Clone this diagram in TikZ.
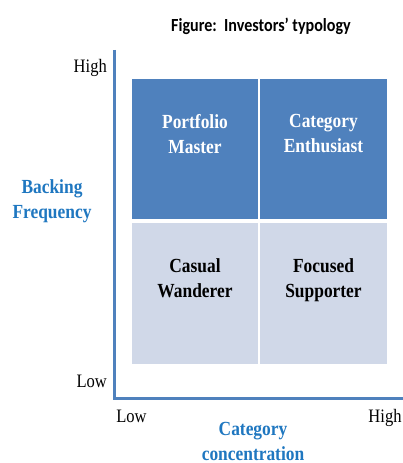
\documentclass[tikz,border=0pt]{standalone}
\usepackage{fontspec}
\setmainfont{Liberation Serif}[FakeStretch=0.87]
\newfontfamily\titlefont{Carlito}[FakeStretch=0.87]
\usepackage{tikz}
\usetikzlibrary{positioning}
\definecolor{cellblue}{HTML}{4F81BD}
\definecolor{celllight}{HTML}{D0D8E8}
\definecolor{labelblue}{HTML}{1F77C0}

\begin{document}
\begin{tikzpicture}[x=1pt,y=1pt,
  cell/.style={minimum width=126pt,minimum height=140pt,inner sep=0pt,outer sep=0pt,anchor=north west},
  celltext/.style={font=\fontsize{20}{25}\selectfont\bfseries,align=center,anchor=north,inner sep=0pt,execute at begin node=\strut},
  tick/.style={font=\fontsize{19}{22}\selectfont,inner sep=0pt,anchor=base},
  axistitle/.style={celltext,text=labelblue}]
  \useasboundingbox (0,0) rectangle (403,463);
  \node[font=\titlefont\fontsize{18.5}{22}\selectfont\bfseries,anchor=base] (title) at (261,431) {Figure:~~Investors’ typology};
  % the four quadrants
  \node[cell,fill=cellblue] (pm) at (132,384) {};
  \node[cell,fill=cellblue,minimum width=127pt,right=2pt of pm] (ce) {};
  \node[cell,fill=celllight,minimum height=141pt,below=4pt of pm] (cw) {};
  \node[cell,fill=celllight,minimum width=127pt,minimum height=141pt,below=4pt of ce] (fs) {};
  \node[celltext,text=white] (pmtext) at ([yshift=-35.5pt]pm.north) {Portfolio\\Master};
  \node[celltext,text=white] (cetext) at ([yshift=-35.5pt]ce.north) {Category\\Enthusiast};
  \node[celltext] (cwtext) at ([yshift=-35.5pt]cw.north) {Casual\\Wanderer};
  \node[celltext] (fstext) at ([yshift=-35.5pt]fs.north) {Focused\\Supporter};
  % axes
  \coordinate (ytop) at (114.5,413);
  \coordinate (origin) at (114.5,64);
  \coordinate (xend) at (403,64);
  \draw[cellblue,line width=3pt] (ytop) -- (origin) -- (xend);
  \node[tick,anchor=base east] (yhigh) at (107,390) {High};
  \node[tick,anchor=base east] (ylow) at (107,75) {Low};
  \node[tick] (xlow) at (131.5,40) {Low};
  \node[tick] (xhigh) at (385,40) {High};
  \node[axistitle] (ytitle) at (52,284) {Backing\\Frequency};
  \node[axistitle] (xtitle) at (253,40.5) {Category\\concentration};
\end{tikzpicture}
\end{document}
